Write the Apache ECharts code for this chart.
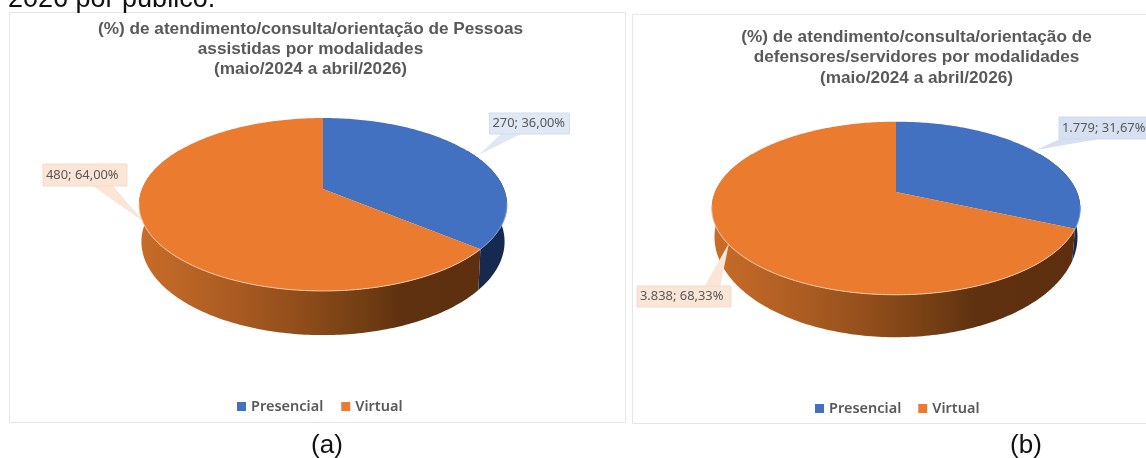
<!DOCTYPE html>
<html><head><meta charset="utf-8">
<style>html,body{margin:0;padding:0;background:#fff;overflow:hidden}#c{width:1146px;height:458px}</style>
<script src="https://cdn.jsdelivr.net/npm/echarts@6/dist/echarts.min.js"></script>
</head><body><div id="c"></div>
<script>
const categories = ['Presencial', 'Virtual'];
const valuesA = [270, 480];
const valuesB = [1779, 3838];
const titleA = '(%) de atendimento/consulta/orientação de Pessoas\nassistidas por modalidades\n(maio/2024 a abril/2026)';
const titleB = '(%) de atendimento/consulta/orientação de\ndefensores/servidores por modalidades\n(maio/2024 a abril/2026)';
const captionTop = '2026 por público.';
const captionA = '(a)';
const captionB = '(b)';

const topColors = ['#4371c2', '#eb7b2f'];
const FONT = '"Noto Sans", sans-serif';
const layoutA = {
  cx: 323, cy: 189, rx: 181, ry: 83.7, k: 0.179, sx: 0.987, sy: 1.08, dy: 36, x0: 140, x1: 505,
  boxes: [
    {x: 489.5, y: 113, w: 80, h: 21, base: [501, 521], tip: [478.5, 155], fill: '#dfe8f4', line: '#d3deec'},
    {x: 43, y: 164, w: 84, h: 22, base: [93, 113], tip: [144, 222], fill: '#fbe5d6', line: '#f3dccb'}
  ]
};
const layoutB = {
  cx: 896, cy: 192, rx: 181, ry: 83.5, k: 0.1875, sx: 0.985, sy: 1.16, dy: 26, x0: 715, x1: 1078,
  boxes: [
    {x: 1059, y: 117, w: 100, h: 22, base: [1060, 1099], tip: [1036, 150], fill: '#d7e0f1', line: '#ced9ec'},
    {x: 637, y: 286, w: 94, h: 21, base: [693, 716], tip: [729, 243], fill: '#fbe5d6', line: '#f3dccb'}
  ]
};

function br(v, d) {
  const s = v.toFixed(d || 0).split('.');
  s[0] = s[0].replace(/\B(?=(\d{3})+(?!\d))/g, '.');
  return s.join(',');
}
function rimTop(L, a) {
  const v = -Math.cos(a), f = 1 - L.k * v;
  return [Math.sin(a) * L.rx / f, v * L.ry / f];
}
function arc(L, a1, a2, fn) {
  const n = Math.max(2, Math.ceil(Math.abs(a2 - a1) * 60)), pts = [];
  for (let i = 0; i <= n; i++) pts.push(fn(a1 + (a2 - a1) * i / n));
  return pts;
}
const topPt = L => a => { const p = rimTop(L, a); return [L.cx + p[0], L.cy + p[1]]; };
const botPt = L => a => { const p = rimTop(L, a); return [L.cx + p[0] * L.sx, L.cy + L.dy + p[1] * L.sy]; };

function sideFill(L, idx) {
  if (idx === 0) return '#16294f';
  return new echarts.graphic.LinearGradient(L.x0, 0, L.x1, 0, [
    {offset: 0, color: '#c86c29'},
    {offset: 0.25, color: '#ab5c22'},
    {offset: 0.45, color: '#8e4c1a'},
    {offset: 0.6, color: '#743f14'},
    {offset: 0.72, color: '#5f3110'},
    {offset: 1, color: '#5d2f0f'}
  ], true);
}

function sliceSeries(values, L, idx) {
  const total = values.reduce((a, b) => a + b, 0);
  return {
    type: 'custom', name: categories[idx], coordinateSystem: 'none',
    itemStyle: {color: topColors[idx]}, silent: true, clip: false,
    data: [values[idx]],
    renderItem: function () {
      const before = values.slice(0, idx).reduce((a, b) => a + b, 0);
      const a1 = before / total * 2 * Math.PI, a2 = (before + values[idx]) / total * 2 * Math.PI;
      const s1 = Math.max(a1, Math.PI / 3), s2 = Math.min(a2, Math.PI * 5 / 3);
      const sideTop = arc(L, s1, s2, topPt(L));
      const sideBot = arc(L, s2, s1, botPt(L));
      const face = [[L.cx, L.cy]].concat(arc(L, a1, a2, topPt(L)));
      const near = arc(L, Math.max(a1, Math.PI * 0.55), Math.min(a2, Math.PI * 1.45), topPt(L));
      const b = L.boxes[idx];
      const pct = values[idx] / total * 100;
      const kids = [
        {type: 'polygon', shape: {points: sideTop.concat(sideBot)}, style: {fill: sideFill(L, idx)}},
        {type: 'polygon', shape: {points: face}, style: {fill: topColors[idx]}},
        {type: 'polyline', shape: {points: near}, style: {fill: null, stroke: idx ? '#f4c7a6' : '#7f9fd8', lineWidth: 1}},
        {type: 'polygon', shape: {points: [[b.base[0], b.y + b.h], b.tip, [b.base[1], b.y + b.h]]}, style: {fill: b.fill}, z2: 5},
        {type: 'rect', shape: {x: b.x, y: b.y, width: b.w, height: b.h}, style: {fill: b.fill, stroke: b.line, lineWidth: 1}, z2: 6},
        {type: 'text', z2: 7, style: {
          text: br(values[idx]) + '; ' + br(pct, 2) + '%',
          x: b.x + 3, y: b.y + b.h / 2, verticalAlign: 'middle', align: 'left',
          font: '12.9px ' + FONT, fill: '#595959'
        }}
      ];
      return {type: 'group', children: kids};
    }
  };
}

const titleStyle = {fontFamily: '"Liberation Sans", Arial, sans-serif', fontWeight: 'bold', fontSize: 17.2, lineHeight: 20, color: '#595959'};
const titleStyleB = Object.assign({}, titleStyle, {lineHeight: 20.5});
const legendText = {fontFamily: FONT, fontSize: 14.5, fontWeight: 600, color: '#595959'};
const captionFont = '"Liberation Sans", Arial, sans-serif';

const chart = echarts.init(document.getElementById('c'), null, {renderer: 'canvas'});
chart.setOption({
  animation: false,
  backgroundColor: '#ffffff',
  title: [
    {text: titleA, left: 310.5, top: 19, textAlign: 'center', padding: 0, textStyle: titleStyle},
    {text: titleB, left: 916.5, top: 27, textAlign: 'center', padding: 0, textStyle: titleStyleB}
  ],
  legend: [
    {data: categories, left: 237, top: 399, padding: 0, icon: 'rect', itemWidth: 9, itemHeight: 9, itemGap: 18, selectedMode: false, textStyle: legendText},
    {data: categories, left: 815, top: 401, padding: 0, icon: 'rect', itemWidth: 9, itemHeight: 9, itemGap: 17, selectedMode: false, textStyle: legendText}
  ],
  graphic: [
    {type: 'rect', silent: true, z: -1, shape: {x: 9.5, y: 12.5, width: 616, height: 410}, style: {fill: '#fff', stroke: '#e6e6e6', lineWidth: 1}},
    {type: 'rect', silent: true, z: -1, shape: {x: 632.5, y: 14.5, width: 520, height: 409}, style: {fill: '#fff', stroke: '#e6e6e6', lineWidth: 1}},
    {type: 'text', silent: true, z: 10, style: {text: captionTop, x: 8, y: 13, verticalAlign: 'bottom', font: '27px ' + captionFont, fill: '#111'}},
    {type: 'text', silent: true, z: 10, style: {text: captionA, x: 327, y: 446, align: 'center', verticalAlign: 'middle', font: '26px ' + captionFont, fill: '#111'}},
    {type: 'text', silent: true, z: 10, style: {text: captionB, x: 1026, y: 446, align: 'center', verticalAlign: 'middle', font: '26px ' + captionFont, fill: '#111'}}
  ],
  series: [
    sliceSeries(valuesA, layoutA, 0),
    sliceSeries(valuesA, layoutA, 1),
    sliceSeries(valuesB, layoutB, 0),
    sliceSeries(valuesB, layoutB, 1)
  ]
});
</script></body></html>
